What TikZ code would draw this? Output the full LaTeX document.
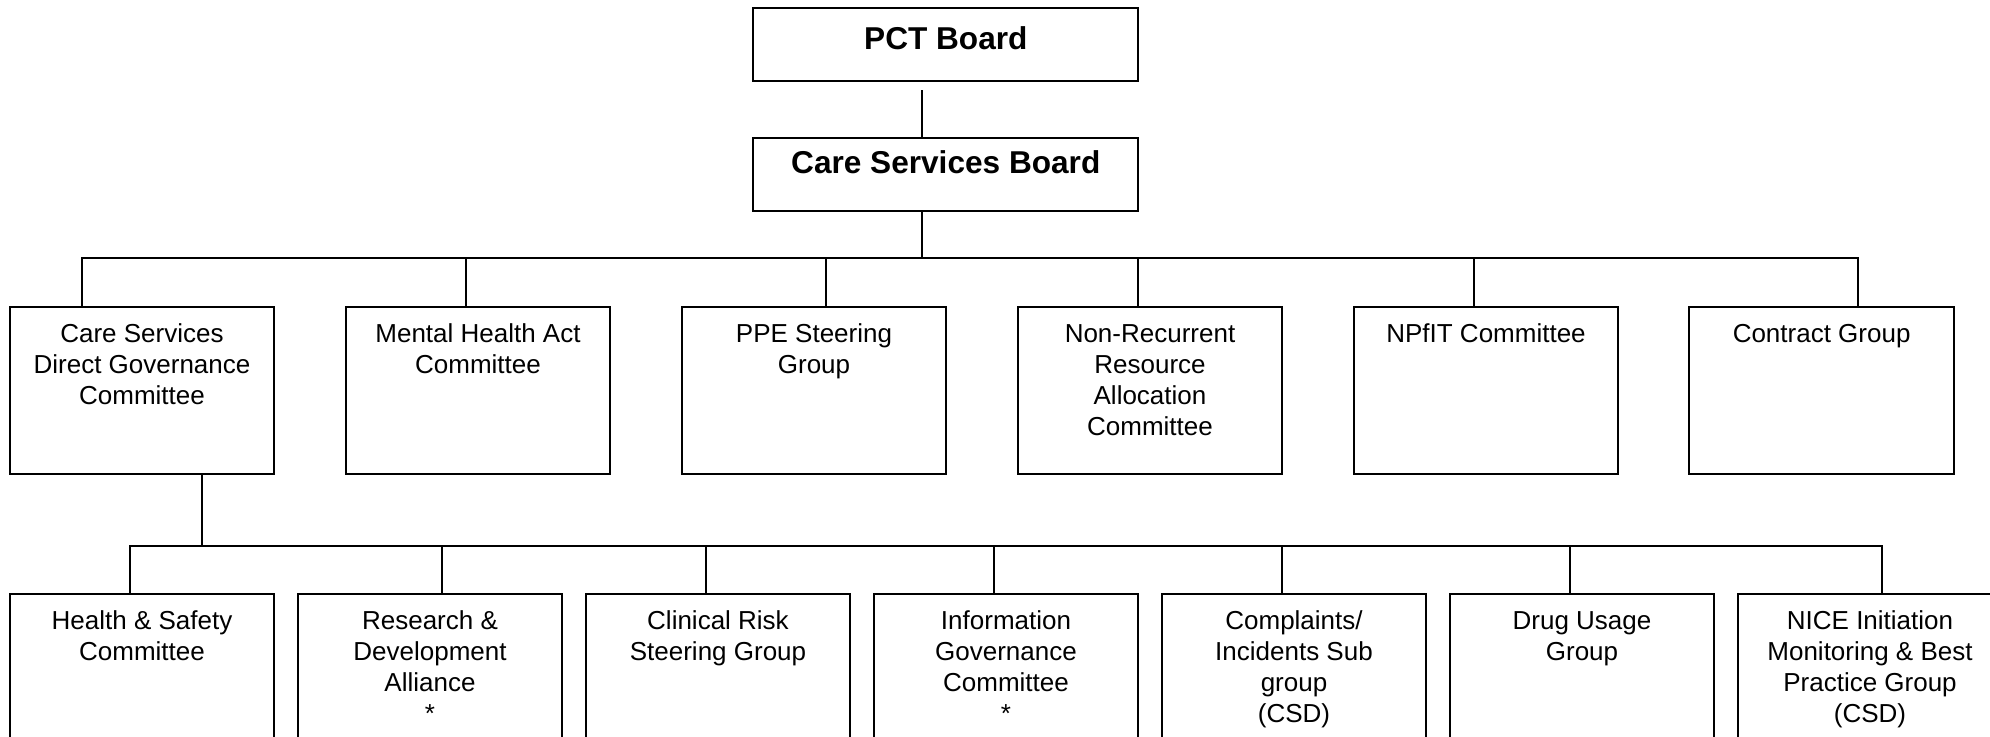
\documentclass[tikz,border=0pt]{standalone}
\usepackage{fontspec}
\setmainfont{Liberation Sans}

% text of the two board boxes (bold, set from the top)
\newcommand\boardtext[2]{\parbox[c][36.2pt][t]{192.5pt}{\centering
  \fontsize{15.8}{19}\selectfont\bfseries\vspace*{#1}\strut #2\par}}
% text of the committee / group boxes (set from the top)
\newcommand\unittext[1]{\parbox[c][83.8pt][t]{132.3pt}{\centering
  \fontsize{13}{15.5}\selectfont\vspace*{6.8pt}\strut #1\par}}

\begin{document}
\begin{tikzpicture}[x=0.5pt,y=-0.5pt,
  unit/.style={draw, line width=0.9pt, inner sep=0pt, outer sep=0pt, anchor=north west},
  link/.style={line width=0.9pt}]
\useasboundingbox (0,0) rectangle (1990,736);
\clip (0,0) rectangle (1990,736);

% boards
\node[unit] (pct) at (753.3,8.3)   {\boardtext{7.2pt}{PCT Board}};
\node[unit] (csb) at (753.3,138.3) {\boardtext{4.2pt}{Care Services Board}};

% first tier
\node[unit] (u1) at (9.7,306.7)    {\unittext{Care Services\\Direct Governance\\Committee}};
\node[unit] (u2) at (345.7,306.7)  {\unittext{Mental Health Act\\Committee}};
\node[unit] (u3) at (681.7,306.7)  {\unittext{PPE Steering\\Group}};
\node[unit] (u4) at (1017.7,306.7) {\unittext{Non-Recurrent\\Resource\\Allocation\\Committee}};
\node[unit] (u5) at (1353.7,306.7) {\unittext{NPfIT Committee}};
\node[unit] (u6) at (1689.3,306.7) {\unittext{Contract Group}};

% second tier
\node[unit] (s1) at (9.7,594.3)    {\unittext{Health \& Safety\\Committee}};
\node[unit] (s2) at (297.7,594.3)  {\unittext{Research \&\\Development\\Alliance\\{*}}};
\node[unit] (s3) at (585.7,594.3)  {\unittext{Clinical Risk\\Steering Group}};
\node[unit] (s4) at (873.7,594.3)  {\unittext{Information\\Governance\\Committee\\{*}}};
\node[unit] (s5) at (1161.7,594.3) {\unittext{Complaints/\\Incidents Sub\\group\\(CSD)}};
\node[unit] (s6) at (1449.7,594.3) {\unittext{Drug Usage\\Group}};
\node[unit] (s7) at (1737.7,594.3) {\unittext{NICE Initiation\\Monitoring \& Best\\Practice Group\\(CSD)}};

% board to board
\coordinate (k0) at (922,0);
\path (pct.south) ++(0,9.3) coordinate (p0);
\draw[link] (p0 -| k0) -- (csb.north -| k0);

% first tier bar
\coordinate (a1) at (81.7,258.3);
\coordinate (a2) at (466,258.3);
\coordinate (a3) at (826,258.3);
\coordinate (a4) at (1138,258.3);
\coordinate (a5) at (1474,258.3);
\coordinate (a6) at (1858,258.3);
\draw[link] (csb.south -| k0) -- (k0 |- a1);
\draw[link] (u1.north -| a1) -- (a1) -- (a6) -- (u6.north -| a6);
\foreach \i in {2,...,5} \draw[link] (a\i) -- (u\i.north -| a\i);

% second tier bar
\coordinate (k1) at (202,0);
\coordinate (b1) at (130,546);
\coordinate (b2) at (442,546);
\coordinate (b3) at (706,546);
\coordinate (b4) at (994,546);
\coordinate (b5) at (1282,546);
\coordinate (b6) at (1570,546);
\coordinate (b7) at (1882,546);
\draw[link] (u1.south -| k1) -- (k1 |- b1);
\draw[link] (s1.north -| b1) -- (b1) -- (b7) -- (s7.north -| b7);
\foreach \i in {2,...,6} \draw[link] (b\i) -- (s\i.north -| b\i);
\end{tikzpicture}
\end{document}
